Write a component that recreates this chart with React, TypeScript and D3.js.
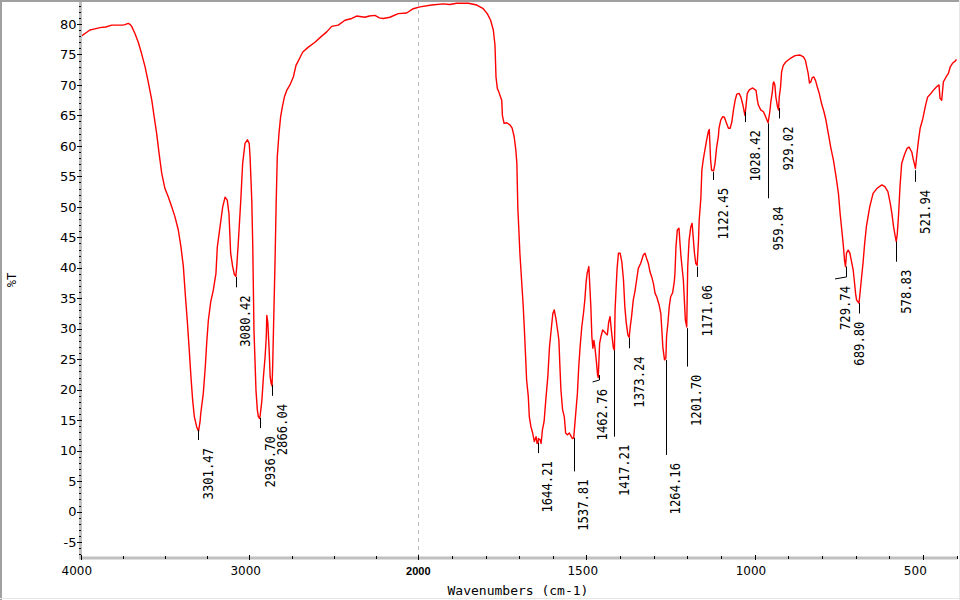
import React from "react";
import * as d3 from "d3";

// ---- spectrum data (wavenumber cm-1, %T) ----
const wavenumbers = [
  3995, 3965, 3944, 3915, 3885, 3850, 3815, 3780, 3750, 3737, 3717, 3705, 3697, 3677, 3658, 3638, 3618, 3599, 3578, 3565,
  3549, 3535, 3519, 3500, 3480, 3460, 3441, 3421, 3405, 3391, 3380, 3368, 3356, 3346, 3336, 3326, 3312, 3301, 3292, 3288,
  3273, 3261, 3253, 3243, 3229, 3214, 3198, 3190, 3174, 3158, 3144, 3131, 3121, 3111, 3099, 3089, 3080, 3075, 3066, 3051,
  3040, 3026, 3012, 3001, 2996, 2986, 2980, 2973, 2967, 2961, 2953, 2947, 2940, 2936, 2926, 2917, 2907, 2900, 2897, 2891,
  2883, 2877, 2871, 2866, 2862, 2858, 2848, 2842, 2835, 2825, 2815, 2805, 2793, 2779, 2760, 2740, 2724, 2704, 2684, 2651,
  2612, 2572, 2542, 2513, 2474, 2434, 2394, 2365, 2316, 2290, 2257, 2230, 2207, 2168, 2119, 2069, 2030, 1995, 1960, 1926,
  1906, 1886, 1851, 1826, 1807, 1795, 1785, 1777, 1772, 1769, 1765, 1761, 1752, 1750, 1745, 1737, 1727, 1721, 1715, 1710,
  1707, 1704, 1701, 1698, 1693, 1688, 1685, 1681, 1678, 1673, 1670, 1665, 1660, 1655, 1650, 1647, 1644, 1643, 1638, 1635,
  1631, 1626, 1621, 1615, 1610, 1605, 1600, 1596, 1591, 1586, 1582, 1579, 1576, 1571, 1566, 1562, 1557, 1551, 1546, 1542,
  1538, 1532, 1527, 1523, 1519, 1514, 1509, 1505, 1501, 1498, 1493, 1490, 1487, 1484, 1481, 1478, 1475, 1471, 1467, 1465,
  1461, 1457, 1452, 1447, 1442, 1438, 1434, 1430, 1427, 1424, 1420, 1417, 1415, 1412, 1409, 1405, 1400, 1395, 1390, 1386,
  1382, 1377, 1373, 1370, 1366, 1361, 1356, 1351, 1346, 1339, 1331, 1326, 1321, 1316, 1311, 1306, 1301, 1296, 1291, 1284,
  1279, 1276, 1273, 1268, 1264, 1262, 1258, 1254, 1250, 1244, 1239, 1237, 1234, 1230, 1225, 1222, 1219, 1215, 1212, 1209,
  1206, 1202, 1200, 1199, 1195, 1190, 1186, 1182, 1179, 1175, 1171, 1167, 1165, 1160, 1157, 1153, 1148, 1143, 1138, 1135,
  1131, 1128, 1122, 1118, 1113, 1108, 1106, 1101, 1095, 1090, 1085, 1078, 1073, 1068, 1063, 1058, 1053, 1046, 1041, 1035,
  1029, 1026, 1022, 1016, 1006, 996, 992, 989, 982, 974, 969, 960, 955, 952, 948, 945, 943, 940, 937, 932,
  929, 927, 923, 920, 915, 907, 895, 880, 865, 855, 849, 845, 841, 837, 833, 829, 824, 819, 814, 808,
  801, 794, 788, 781, 774, 766, 758, 751, 746, 741, 736, 733, 730, 727, 722, 717, 712, 707, 704, 700,
  697, 690, 688, 683, 678, 673, 668, 658, 648, 637, 622, 613, 604, 597, 592, 587, 582, 579, 576, 572,
  568, 563, 555, 547, 541, 533, 529, 522, 518, 513, 508, 500, 493, 486, 476, 469, 459, 452, 449, 444,
  439, 431, 424, 419, 411, 404, 400,
];
const transmittance = [
  78.0, 78.6, 79.0, 79.2, 79.4, 79.5, 79.8, 79.8, 79.8, 79.9, 80.1, 79.9, 79.6, 78.4, 77.0, 75.1, 73.0, 70.5, 67.5, 65.0,
  62.0, 58.8, 55.5, 53.0, 51.6, 50.0, 48.4, 46.2, 43.4, 40.2, 35.8, 31.4, 26.5, 22.1, 18.3, 15.6, 13.9, 13.2, 14.8, 16.1,
  19.4, 23.8, 27.6, 31.4, 34.4, 36.3, 39.1, 43.4, 46.7, 50.0, 51.6, 51.1, 48.9, 42.4, 40.2, 38.9, 38.6, 40.2, 44.0, 51.1,
  57.1, 60.4, 61.0, 60.4, 58.2, 51.1, 43.4, 29.8, 24.9, 19.9, 16.7, 15.6, 15.3, 15.8, 18.3, 22.1, 25.4, 28.7, 32.2, 31.0,
  26.5, 22.1, 21.0, 20.6, 24.0, 29.2, 41.3, 50.0, 58.2, 62.0, 64.8, 66.4, 68.0, 69.1, 70.0, 71.3, 73.2, 74.3, 75.4, 76.2,
  77.0, 78.0, 78.7, 79.6, 79.8, 80.6, 80.9, 81.3, 81.1, 81.3, 81.4, 81.0, 80.9, 81.1, 81.7, 81.8, 82.5, 82.8, 83.1, 83.3,
  83.2, 83.4, 83.4, 83.1, 82.5, 81.7, 80.6, 79.0, 76.5, 71.3, 69.4, 68.9, 67.5, 65.0, 63.7, 63.8, 63.4, 62.9, 61.5, 59.3,
  57.1, 49.7, 46.2, 42.4, 38.0, 33.6, 30.3, 25.4, 21.6, 18.9, 15.6, 13.9, 12.9, 11.5, 12.3, 11.2, 11.3, 12.0, 11.8, 11.2,
  13.4, 14.8, 18.3, 22.1, 27.0, 29.8, 32.5, 33.1, 31.7, 29.8, 28.1, 23.8, 20.0, 16.7, 15.6, 12.9, 12.6, 12.9, 12.4, 12.0,
  12.1, 16.1, 19.4, 23.8, 27.0, 30.3, 32.5, 34.7, 37.7, 39.1, 40.2, 36.9, 33.6, 28.7, 26.8, 28.1, 27.0, 24.9, 22.4, 22.0,
  27.6, 28.7, 29.8, 29.5, 29.2, 29.0, 31.1, 32.0, 30.3, 28.7, 26.8, 26.5, 33.1, 36.6, 39.9, 42.4, 42.4, 41.0, 38.0, 33.6,
  31.1, 29.0, 28.6, 30.3, 32.0, 34.7, 36.1, 38.0, 39.9, 40.7, 42.1, 42.4, 41.5, 40.7, 39.3, 38.5, 37.4, 35.8, 35.2, 33.9,
  32.5, 29.8, 27.0, 24.9, 25.2, 28.7, 30.9, 33.6, 35.2, 35.9, 37.7, 39.1, 43.4, 46.2, 46.5, 44.0, 41.8, 39.6, 38.0, 34.7,
  31.4, 30.3, 37.0, 40.2, 44.5, 46.7, 47.3, 44.5, 42.4, 40.7, 40.4, 44.5, 47.8, 51.4, 56.0, 57.7, 59.3, 60.9, 62.3, 62.7,
  57.7, 56.0, 55.9, 57.1, 59.8, 61.5, 62.9, 64.2, 64.8, 64.7, 63.9, 62.9, 62.9, 63.9, 65.9, 67.5, 68.5, 68.6, 68.0, 66.7,
  65.0, 66.4, 68.6, 69.2, 69.5, 69.1, 67.5, 66.7, 65.9, 65.6, 65.0, 63.8, 65.6, 67.2, 68.6, 70.3, 70.5, 70.0, 68.0, 66.4,
  65.9, 68.0, 69.7, 72.1, 73.2, 73.8, 74.3, 74.8, 74.9, 74.6, 74.0, 72.9, 71.9, 70.3, 70.5, 71.2, 71.3, 70.7, 69.7, 68.6,
  66.9, 65.6, 64.2, 62.0, 59.8, 57.7, 54.9, 52.2, 48.9, 46.2, 43.4, 41.3, 40.2, 42.4, 42.9, 42.4, 41.0, 39.6, 38.0, 35.8,
  34.7, 34.2, 35.2, 38.0, 40.7, 44.0, 46.7, 50.0, 52.2, 53.0, 53.6, 53.3, 52.5, 50.6, 48.9, 46.7, 45.1, 44.3, 45.6, 48.9,
  53.3, 57.1, 58.5, 59.6, 59.8, 59.0, 57.9, 56.3, 58.5, 60.9, 62.9, 64.5, 66.4, 68.0, 68.6, 69.1, 69.7, 70.0, 67.8, 67.5,
  70.5, 71.3, 71.9, 72.9, 73.6, 73.9, 74.2,
];

// ---- peak annotations ----
const peakLabels = [
  "3301.47", "3080.42", "2936.70", "2866.04", "1644.21", "1537.81", "1462.76", "1417.21", "1373.24", "1264.16",
  "1201.70", "1171.06", "1122.45", "1028.42", "959.84", "929.02", "729.74", "689.80", "578.83", "521.94",
];
const peakWn = peakLabels.map(Number);
const leaderTopT = [13.4, 38.5, 15.4, 20.8, 11.3, 12.1, 22.4, 26.5, 28.5, 24.9, 30.1, 40.2, 55.7, 65.6, 63.7, 66.2, 40.2, 34.2, 44.3, 56.0];
const leaderBottomT = [11.75, 36.8, 13.7, 19.0, 9.6, 6.6, 21.6, 12.3, 26.8, 9.3, 23.8, 38.5, 54.4, 63.9, 51.4, 64.5, 38.5, 32.5, 41.0, 54.1];
// wavenumber where the label text stands (differs from the peak where the leader bends)
const labelWn = [3301.47, 3080.42, 2936.7, 2866.04, 1644.21, 1537.81, 1482, 1417.21, 1373.24, 1264.16, 1201.7, 1171.06, 1122.45, 1028.42, 959.84, 929.02, 761, 718, 578.83, 521.94];
const leaderBends = [false, false, false, false, false, false, true, false, false, false, false, false, false, false, false, false, true, false, false, false];

// ---- axes ----
const xMajorTicks = [4000, 3000, 2000, 1500, 1000, 500];
const xTickLabels = ["4000", "3000", "2000", "1500", "1000", "500"];
const xMinorTicksLeft = [3750, 3500, 3250, 2750, 2500, 2250];
const xMinorTicksRight = [1900, 1800, 1700, 1600, 1400, 1300, 1200, 1100, 900, 800, 700, 600, 400];
const yMajorTicks = [-5, 0, 5, 10, 15, 20, 25, 30, 35, 40, 45, 50, 55, 60, 65, 70, 75, 80];
const yTickLabels = yMajorTicks.map(String);
const xTitle = "Wavenumbers (cm-1)";
const yTitle = "%T";

export default function App() {
  const W = 960;
  const H = 600;
  const left = 80.5;
  const right = 956.5;
  const top = 2;
  const bottom = 558;

  const x = d3.scaleLinear().domain([4000, 2000, 400]).range([left, 418.3, right]);
  const y = d3.scaleLinear().domain([-7.6, 83.6]).range([bottom, top]);

  const pts = wavenumbers.map((w, i) => [w, transmittance[i]] as [number, number]);
  const line = d3
    .line<[number, number]>()
    .x((d) => x(d[0]))
    .y((d) => y(d[1]));

  const yMinor = d3.range(-7, 84, 1);
  const monoFont = "'DejaVu Sans Mono', 'Liberation Mono', monospace";
  const sansFont = "'DejaVu Sans', 'Liberation Sans', sans-serif";

  return (
    <svg
      width={W}
      height={H}
      style={{ position: "absolute", left: 0, top: 0, background: "#fff" }}
    >
      <defs>
        <clipPath id="plotClip">
          <rect x={82} y={top} width={right - 82 + 1} height={bottom - top - 1} />
        </clipPath>
      </defs>
      <rect x={0} y={0} width={W} height={H} fill="#fff" />

      {/* outer frame */}
      <line x1={1} y1={0} x2={1} y2={H} stroke="#a0a0a0" strokeWidth={2} />
      <line x1={0} y1={1} x2={W} y2={1} stroke="#a0a0a0" strokeWidth={2} />
      <line x1={959.5} y1={0} x2={959.5} y2={H} stroke="#e6e6e6" strokeWidth={1} />
      <line x1={0} y1={598.5} x2={W} y2={598.5} stroke="#e6e6e6" strokeWidth={1} />

      {/* dashed 2000 line */}
      <line
        x1={Math.round(x(2000)) + 0.5}
        x2={Math.round(x(2000)) + 0.5}
        y1={top}
        y2={bottom - 2}
        stroke="#bdbdbd"
        strokeWidth={1}
        strokeDasharray="4,4"
      />

      {/* axis bars */}
      <rect x={79} y={top} width={3} height={bottom - top + 1} fill="#c0c0c0" />
      <rect x={79} y={556.5} width={right - 79 + 1} height={3} fill="#c0c0c0" />

      {/* y ticks */}
      {yMinor.map((v) => (
        <line key={"ym" + v} x1={79} x2={81} y1={Math.round(y(v)) + 0.5} y2={Math.round(y(v)) + 0.5} stroke="#000" strokeWidth={1} />
      ))}
      {yMajorTicks.map((v) => (
        <line key={"yM" + v} x1={77} x2={82} y1={Math.round(y(v)) + 0.5} y2={Math.round(y(v)) + 0.5} stroke="#000" strokeWidth={1} />
      ))}
      {yMajorTicks.map((v, i) => (
        <text
          key={"yl" + v}
          x={76.5}
          y={y(v)}
          dy="0.36em"
          textAnchor="end"
          fontFamily={sansFont}
          fontSize={13}
          fill="#000"
        >
          {yTickLabels[i]}
        </text>
      ))}

      {/* x ticks */}
      {[...xMinorTicksLeft, ...xMinorTicksRight].map((v) => (
        <line key={"xm" + v} x1={Math.round(x(v)) + 0.5} x2={Math.round(x(v)) + 0.5} y1={556} y2={559} stroke="#000" strokeWidth={1} />
      ))}
      {xMajorTicks.map((v) => (
        <line key={"xM" + v} x1={Math.round(x(v)) + 0.5} x2={Math.round(x(v)) + 0.5} y1={555} y2={560} stroke="#000" strokeWidth={1} />
      ))}
      {xMajorTicks.map((v, i) =>
        v === 2000 ? (
          <text
            key={"xl" + v}
            x={x(v)}
            y={575.3}
            textAnchor="middle"
            fontFamily="'Liberation Sans', Arial, sans-serif"
            fontWeight="bold"
            fontSize={11}
            fill="#000"
          >
            {xTickLabels[i]}
          </text>
        ) : (
          <text
            key={"xl" + v}
            x={x(v) - 19}
            y={575.3}
            textAnchor="start"
            fontFamily={sansFont}
            fontSize={12}
            fill="#000"
          >
            {xTickLabels[i]}
          </text>
        )
      )}

      {/* axis titles */}
      <text x={518} y={595} textAnchor="middle" fontFamily={monoFont} fontSize={13} fill="#000">
        {xTitle}
      </text>
      <text
        transform={`translate(16,${(top + bottom) / 2}) rotate(-90)`}
        textAnchor="middle"
        fontFamily={monoFont}
        fontSize={12}
        fill="#000"
      >
        {yTitle}
      </text>

      {/* spectrum */}
      <g clipPath="url(#plotClip)">
        <path d={line(pts) || ""} fill="none" stroke="#ff0000" strokeWidth={1.4} strokeLinejoin="round" />
      </g>

      {/* peak annotations */}
      {peakLabels.map((lab, i) => {
        const px = Math.round(x(peakWn[i])) + 0.5;
        const y1 = y(leaderTopT[i]);
        const y2 = y(leaderBottomT[i]);
        const lx = x(labelWn[i]);
        const bend = leaderBends[i];
        const textX = lx + 9.5 + 5;
        const textTop = y2 + (bend ? 9 : 8);
        return (
          <g key={lab}>
            <line x1={px} x2={px} y1={y1} y2={y2} stroke="#000" strokeWidth={1} />
            {bend && <line x1={px} x2={lx} y1={y2} y2={y2 + 2} stroke="#000" strokeWidth={1} />}
            <text
              transform={`translate(${textX},${textTop}) rotate(-90)`}
              textAnchor="end"
              fontFamily={monoFont}
              fontSize={14}
              textLength={lab.length * 7.35}
              lengthAdjust="spacingAndGlyphs"
              fill="#000"
            >
              {lab}
            </text>
          </g>
        );
      })}
    </svg>
  );
}
